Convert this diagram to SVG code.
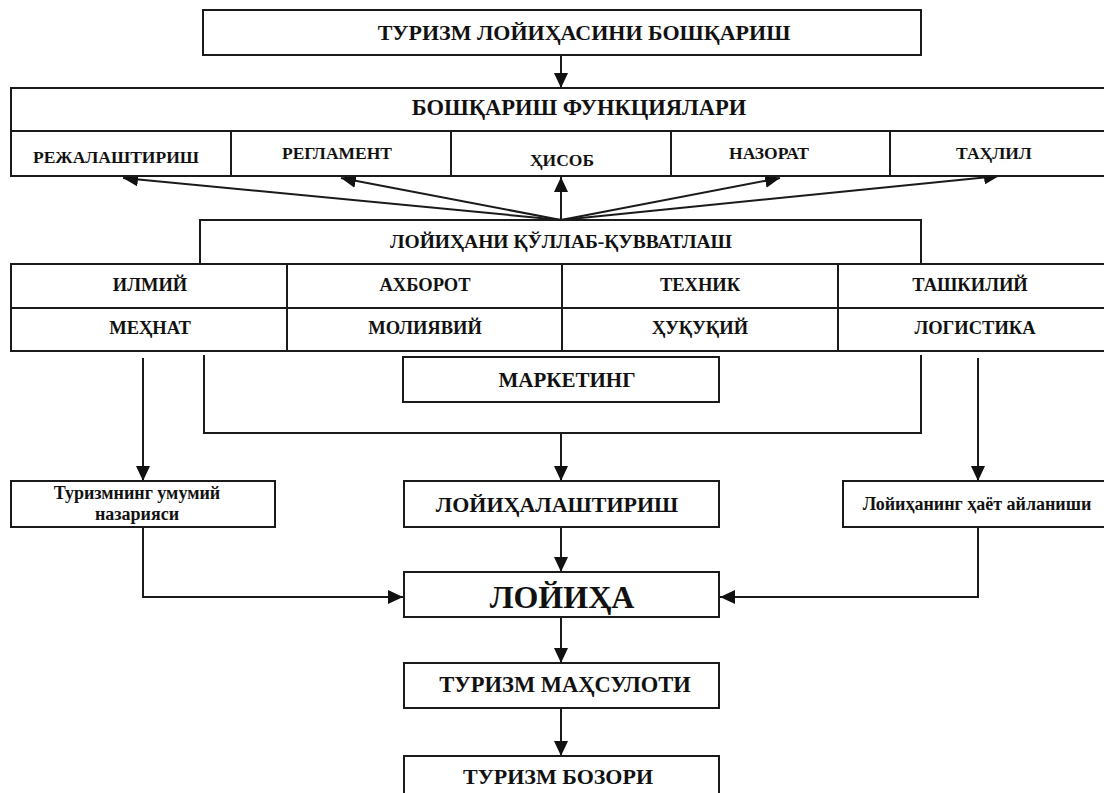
<svg xmlns="http://www.w3.org/2000/svg" width="1104" height="793" viewBox="0 0 1104 793">
<style>
.box{fill:#fff;stroke:#1a1a1a;stroke-width:2}
.ln{fill:none;stroke:#1a1a1a;stroke-width:2}
.t{font-family:"Liberation Serif","Times New Roman",serif;font-weight:bold;fill:#111;text-anchor:middle}
.big{font-size:22px}
.mid{font-size:18.5px}
.sm{font-size:17.5px}
.low{font-size:18px}
.huge{font-size:32px}
</style>
<defs>
<marker id="ah" markerUnits="userSpaceOnUse" markerWidth="16" markerHeight="14" refX="15" refY="7" orient="auto">
<path d="M0,0 L15,7 L0,14 z" fill="#111"/>
</marker>
</defs>
<rect width="1104" height="793" fill="#fff"/>

<g id="connectors">
<line class="ln" x1="561" y1="55" x2="561" y2="88" marker-end="url(#ah)"/>
<line class="ln" x1="561" y1="220" x2="123" y2="178" marker-end="url(#ah)"/>
<line class="ln" x1="561" y1="220" x2="341" y2="178" marker-end="url(#ah)"/>
<line class="ln" x1="561" y1="220" x2="561" y2="177" marker-end="url(#ah)"/>
<line class="ln" x1="561" y1="220" x2="780" y2="178" marker-end="url(#ah)"/>
<line class="ln" x1="561" y1="220" x2="999" y2="176" marker-end="url(#ah)"/>
<line class="ln" x1="143" y1="358" x2="143" y2="481" marker-end="url(#ah)"/>
<path class="ln" d="M204,355 V433 H921 V355"/>
<line class="ln" x1="561" y1="433" x2="561" y2="481" marker-end="url(#ah)"/>
<line class="ln" x1="978" y1="358" x2="978" y2="481" marker-end="url(#ah)"/>
<path class="ln" d="M143,527 V597 H403" marker-end="url(#ah)"/>
<path class="ln" d="M978,527 V597 H720" marker-end="url(#ah)"/>
<line class="ln" x1="561" y1="527" x2="561" y2="572" marker-end="url(#ah)"/>
<line class="ln" x1="561" y1="617" x2="561" y2="663" marker-end="url(#ah)"/>
<line class="ln" x1="561" y1="708" x2="561" y2="756" marker-end="url(#ah)"/>
</g>

<g id="n-title">
<rect class="box" x="203" y="10" width="718" height="45"/>
<text class="t big" x="584" y="40">ТУРИЗМ ЛОЙИҲАСИНИ БОШҚАРИШ</text>
</g>

<g id="n-functions">
<rect class="box" x="11" y="88" width="1100" height="88"/>
<line class="ln" x1="11" y1="131" x2="1111" y2="131"/>
<line class="ln" x1="231" y1="131" x2="231" y2="176"/>
<line class="ln" x1="451" y1="131" x2="451" y2="176"/>
<line class="ln" x1="671" y1="131" x2="671" y2="176"/>
<line class="ln" x1="890" y1="131" x2="890" y2="176"/>
<text class="t big" x="579" y="115" style="font-size:22.5px">БОШҚАРИШ ФУНКЦИЯЛАРИ</text>
<text class="t sm" x="116" y="163">РЕЖАЛАШТИРИШ</text>
<text class="t sm" x="337" y="159">РЕГЛАМЕНТ</text>
<text class="t sm" x="562" y="166">ҲИСОБ</text>
<text class="t sm" x="769" y="159">НАЗОРАТ</text>
<text class="t sm" x="994" y="159">ТАҲЛИЛ</text>
</g>

<g id="n-support">
<rect class="box" x="200" y="220" width="721" height="44"/>
<text class="t" x="561" y="248" style="font-size:19.5px">ЛОЙИҲАНИ ҚЎЛЛАБ-ҚУВВАТЛАШ</text>
</g>

<g id="n-support-grid">
<rect class="box" x="11" y="264" width="1100" height="87"/>
<line class="ln" x1="11" y1="308" x2="1111" y2="308"/>
<line class="ln" x1="287" y1="264" x2="287" y2="351"/>
<line class="ln" x1="562" y1="264" x2="562" y2="351"/>
<line class="ln" x1="838" y1="264" x2="838" y2="351"/>
<text class="t mid" x="150" y="291">ИЛМИЙ</text>
<text class="t mid" x="425" y="291">АХБОРОТ</text>
<text class="t mid" x="700" y="291">ТЕХНИК</text>
<text class="t mid" x="970" y="291">ТАШКИЛИЙ</text>
<text class="t mid" x="150" y="334">МЕҲНАТ</text>
<text class="t mid" x="425" y="334">МОЛИЯВИЙ</text>
<text class="t mid" x="700" y="334">ҲУҚУҚИЙ</text>
<text class="t mid" x="975" y="334">ЛОГИСТИКА</text>
</g>

<g id="n-marketing">
<rect class="box" x="403" y="357" width="316" height="45"/>
<text class="t" x="567" y="387" style="font-size:21px">МАРКЕТИНГ</text>
</g>

<g id="n-theory">
<rect class="box" x="11" y="481" width="264" height="46"/>
<text class="t low" x="137" y="499">Туризмнинг умумий</text>
<text class="t low" x="137" y="520">назарияси</text>
</g>

<g id="n-design">
<rect class="box" x="404" y="481" width="315" height="46"/>
<text class="t big" x="557" y="512">ЛОЙИҲАЛАШТИРИШ</text>
</g>

<g id="n-lifecycle">
<rect class="box" x="843" y="481" width="270" height="46"/>
<text class="t low" x="977" y="510">Лойиҳанинг ҳаёт айланиши</text>
</g>

<g id="n-project">
<rect class="box" x="404" y="572" width="315" height="45"/>
<text class="t huge" x="562" y="608">ЛОЙИҲА</text>
</g>

<g id="n-product">
<rect class="box" x="404" y="663" width="315" height="45"/>
<text class="t" x="565" y="692" style="font-size:22.5px">ТУРИЗМ МАҲСУЛОТИ</text>
</g>

<g id="n-market">
<rect class="box" x="404" y="756" width="315" height="50"/>
<text class="t big" x="558" y="784">ТУРИЗМ БОЗОРИ</text>
</g>
</svg>
